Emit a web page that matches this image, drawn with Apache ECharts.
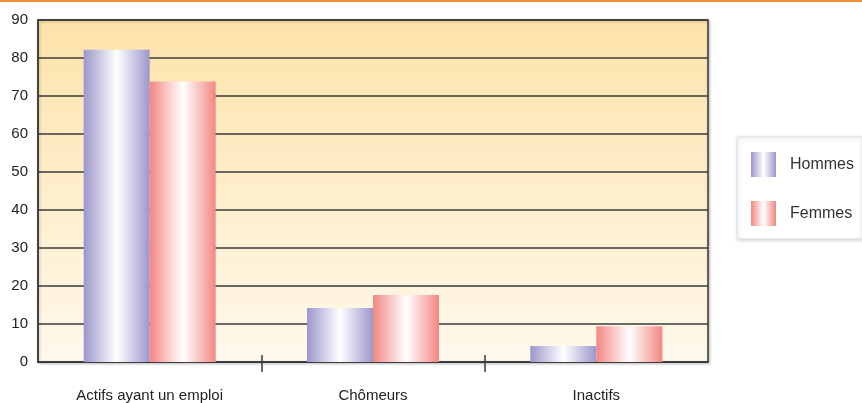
<!DOCTYPE html>
<html>
<head>
<meta charset="utf-8">
<script src="https://cdn.jsdelivr.net/npm/echarts@6/dist/echarts.min.js"></script>
<style>
  html, body { margin: 0; padding: 0; background: #fff; }
  #topline { position: absolute; left: 0; top: 0; width: 862px; height: 2px; background: #f39233; }
  #chart { width: 862px; height: 403px; }
</style>
</head>
<body>
<div id="topline"></div>
<div id="chart"></div>
<script>
const categories = ["Actifs ayant un emploi", "Chômeurs", "Inactifs"];
const hommes = [82.2, 14.2, 4.2];
const femmes = [73.8, 17.6, 9.4];
const seriesNames = ["Hommes", "Femmes"];
// séparateurs entre catégories (seuls les deux du milieu ont un trait)
const boundaries = ["", "", "", ""];

// barre avec reflet blanc au centre
function shine(edge) {
  return new echarts.graphic.LinearGradient(0, 0, 1, 0, [
    { offset: 0, color: edge },
    { offset: 0.5, color: "#ffffff" },
    { offset: 1, color: edge },
  ]);
}

const myChart = echarts.init(document.getElementById("chart"));
const font = "Liberation Sans, Arial, sans-serif";
const dark = "#3a3a3a";

const option = {
  animation: false,
  grid: {
    left: 38,
    right: 154,
    top: 20,
    bottom: 40,
    show: true,
    borderColor: dark,
    borderWidth: 1.5,
    backgroundColor: new echarts.graphic.LinearGradient(0, 0, 0, 1, [
      { offset: 0, color: "#fde3a9" },
      { offset: 1, color: "#fff8ec" },
    ]),
    shadowColor: "rgba(0,0,0,0.25)",
    shadowBlur: 3,
    shadowOffsetX: 1,
    shadowOffsetY: 1,
  },
  legend: {
    orient: "vertical",
    right: 0,
    top: 137,
    padding: [15, 8, 13, 14],
    itemGap: 24,
    itemWidth: 25,
    itemHeight: 25,
    icon: "rect",
    backgroundColor: "#fff",
    borderColor: "#e0e0e0",
    borderWidth: 1,
    shadowColor: "rgba(0,0,0,0.18)",
    shadowBlur: 4,
    shadowOffsetX: 1,
    shadowOffsetY: 1,
    textStyle: { fontFamily: font, fontSize: 16, color: "#333", padding: [0, 0, 0, 9] },
    data: seriesNames,
  },
  xAxis: [
    {
      type: "category",
      data: categories,
      axisLine: { lineStyle: { color: dark, width: 1.5 } },
      axisTick: { show: false },
      axisLabel: { margin: 26, fontFamily: font, fontSize: 15, color: "#222" },
    },
    {
      type: "category",
      data: boundaries,
      boundaryGap: false,
      position: "bottom",
      offset: -7,
      axisLine: { show: false },
      axisTick: {
        show: true,
        length: 17,
        interval: (i) => i > 0 && i < boundaries.length - 1,
        lineStyle: { color: dark, width: 1.5 },
      },
      axisLabel: { show: false },
    },
  ],
  yAxis: {
    type: "value",
    min: 0,
    max: 90,
    interval: 10,
    axisLine: { show: true, lineStyle: { color: dark, width: 1.5 } },
    axisTick: { show: false },
    axisLabel: { margin: 10, fontFamily: font, fontSize: 15, color: "#222" },
    splitLine: { show: true, lineStyle: { color: dark, width: 1.5 } },
  },
  series: [
    {
      name: seriesNames[0],
      type: "bar",
      data: hommes,
      barWidth: 66,
      barGap: "0%",
      itemStyle: { color: shine("#9c97cc") },
    },
    {
      name: seriesNames[1],
      type: "bar",
      data: femmes,
      barWidth: 66,
      barGap: "0%",
      itemStyle: { color: shine("#f38783") },
    },
  ],
};
myChart.setOption(option);
</script>
</body>
</html>
